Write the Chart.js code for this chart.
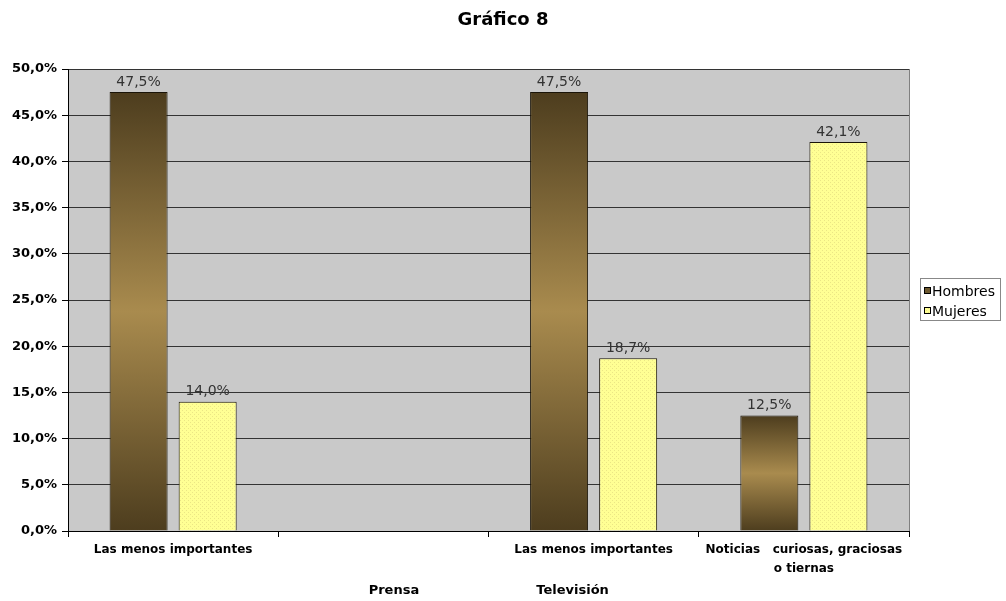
<!DOCTYPE html>
<html><head><meta charset="utf-8">
<script src="https://cdn.jsdelivr.net/npm/chart.js@4.4.0/dist/chart.umd.min.js"></script>
<style>html,body{margin:0;padding:0;background:#fff;}#wrap{width:1006px;height:601px;}</style>
</head><body><div id="wrap"><canvas id="c" width="1006" height="601"></canvas></div>
<script>
const chartTitle = "Gráfico 8";
const categories = [["Las menos importantes"], [""], ["Las menos importantes"], ["Noticias   curiosas, graciosas", "o tiernas"]];
const groupLabels = ["Prensa", "Televisión"];
const groupPositions = [1.05, 1.9];
const seriesNames = ["Hombres", "Mujeres"];
const hombres = [47.5, null, 47.5, 12.5];
const mujeres = [14.0, null, 18.7, 42.1];
const yMin = 0, yMax = 50, yStep = 5;

const fmt = v => v.toFixed(1).replace('.', ',') + '%';

const pc = document.createElement('canvas'); pc.width = 4; pc.height = 4;
const p = pc.getContext('2d');
p.fillStyle = '#ffff94'; p.fillRect(0, 0, 4, 4);
p.fillStyle = '#ebe685'; p.fillRect(0, 0, 1, 1); p.fillRect(2, 2, 1, 1);
const ctx0 = document.getElementById('c').getContext('2d');
const yellowPattern = ctx0.createPattern(pc, 'repeat');

function brownGradient(ctx) {
  const chart = ctx.chart;
  if (!chart.chartArea || ctx.type !== 'data' || ctx.raw == null) return '#7a6436';
  const y = chart.scales.y;
  const top = y.getPixelForValue(ctx.raw), base = y.getPixelForValue(0);
  const g = chart.ctx.createLinearGradient(0, top, 0, base);
  g.addColorStop(0, '#4d3d1e');
  g.addColorStop(0.5, '#a98b4e');
  g.addColorStop(1, '#4d3d1e');
  return g;
}

const decor = {
  id: 'decor',
  beforeDraw(chart) {
    const c = chart.ctx, a = chart.chartArea;
    c.save();
    c.fillStyle = '#fff'; c.fillRect(0, 0, chart.width, chart.height);
    c.fillStyle = '#c9c9c9'; c.fillRect(a.left, a.top, a.right - a.left, a.bottom - a.top);
    c.restore();
  },
  afterDatasetsDraw(chart) {
    const c = chart.ctx;
    c.save();
    c.font = '14px "DejaVu Sans"'; c.fillStyle = '#333'; c.textAlign = 'center'; c.textBaseline = 'bottom';
    chart.data.datasets.forEach((ds, i) => {
      chart.getDatasetMeta(i).data.forEach((el, j) => {
        const v = ds.data[j];
        if (v == null) return;
        c.fillText(fmt(v), el.x, el.y - 3);
      });
    });
    c.restore();
  },
  afterDraw(chart) {
    const c = chart.ctx, a = chart.chartArea;
    c.save();
    c.strokeStyle = '#808080'; c.lineWidth = 1;
    c.beginPath(); c.moveTo(a.right + 0.5, a.top); c.lineTo(a.right + 0.5, a.bottom); c.stroke();
    c.font = 'bold 18px "DejaVu Sans"'; c.fillStyle = '#000'; c.textAlign = 'center'; c.textBaseline = 'middle';
    c.fillText(chartTitle, 503, 20);
    c.font = 'bold 13px "DejaVu Sans"';
    groupLabels.forEach((t, i) => {
      c.fillText(t, chart.scales.x.getPixelForValue(groupPositions[i]), 591);
    });
    c.fillStyle = '#fff'; c.fillRect(920, 278, 81, 43);
    c.strokeStyle = '#888'; c.strokeRect(920.5, 278.5, 80, 42);
    const fills = [chart.data.datasets[0].legendColor, yellowPattern];
    c.font = '14px "DejaVu Sans"'; c.textAlign = 'left';
    seriesNames.forEach((n, i) => {
      const yy = 291 + i * 20;
      c.fillStyle = fills[i]; c.fillRect(924, yy - 4, 7, 7);
      c.strokeStyle = '#000'; c.strokeRect(924.5, yy - 3.5, 6, 6);
      c.fillStyle = '#000'; c.fillText(n, 932, yy + 1);
    });
    c.restore();
  }
};

new Chart(ctx0, {
  type: 'bar',
  data: {
    labels: categories,
    datasets: [
      { label: seriesNames[0], data: hombres, backgroundColor: brownGradient, legendColor: '#6e5a30',
        borderColor: '#1a1408', borderWidth: 1, categoryPercentage: 0.657, barPercentage: 0.84 },
      { label: seriesNames[1], data: mujeres, backgroundColor: yellowPattern,
        borderColor: '#1a1408', borderWidth: 1, categoryPercentage: 0.657, barPercentage: 0.84 }
    ]
  },
  options: {
    responsive: false, animation: false, devicePixelRatio: 1,
    layout: { padding: { left: 0, right: 97, top: 69, bottom: 0 } },
    plugins: { legend: { display: false }, title: { display: false }, tooltip: { enabled: false } },
    scales: {
      x: {
        grid: { offset: true, drawOnChartArea: false, tickLength: 6, color: '#000' },
        border: { color: '#000' },
        ticks: { font: { family: 'DejaVu Sans', size: 12, weight: 'bold', lineHeight: 1.55 }, color: '#000', padding: 4, maxRotation: 0, autoSkip: false },
        afterFit: s => { s.height = 70; }
      },
      y: {
        min: yMin, max: yMax,
        grid: { color: '#333', tickLength: 6, tickColor: '#000' },
        border: { color: '#000' },
        ticks: { stepSize: yStep, callback: v => fmt(v), font: { family: 'DejaVu Sans', size: 13, weight: 'bold' }, color: '#000', padding: 5 },
        afterFit: s => { s.width = 68; }
      }
    }
  },
  plugins: [decor]
});
</script></body></html>
